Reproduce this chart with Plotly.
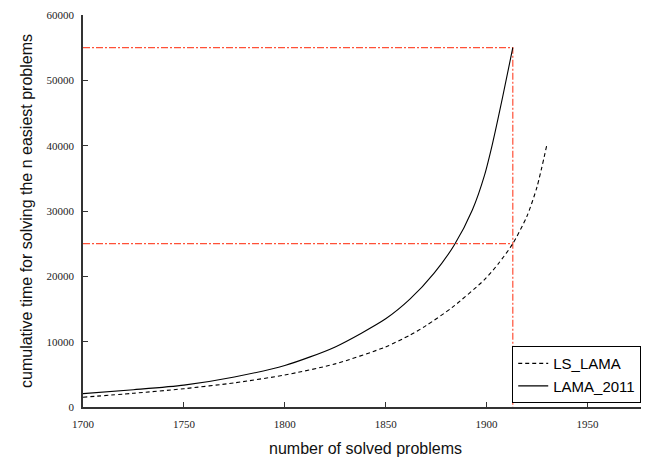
import plotly.graph_objects as go

# Data
lama2011_x = [1700, 1725, 1750, 1775, 1800, 1825, 1850, 1862, 1874, 1884, 1893, 1899, 1903, 1908, 1913]
lama2011_y = [2050, 2650, 3350, 4600, 6350, 9200, 13500, 16500, 20500, 24800, 30200, 35500, 40400, 47500, 55000]

lslama_x = [1700, 1725, 1750, 1775, 1800, 1825, 1850, 1862, 1870, 1883, 1899, 1906, 1913, 1920, 1925, 1930]
lslama_y = [1500, 2100, 2800, 3700, 4900, 6600, 9200, 11000, 12450, 15250, 19500, 22000, 25000, 29200, 33700, 40300]

x_ticks = [1700, 1750, 1800, 1850, 1900, 1950]
y_ticks = [0, 10000, 20000, 30000, 40000, 50000, 60000]

ref_x = 1913          # number of problems marked
ref_high = 55000      # LAMA_2011 time at ref_x
ref_low = 25000       # LS_LAMA time at ref_x
x_start = 1700

red = "rgb(255,80,55)"
dash = "7px,2px,2px,2px"

fig = go.Figure()

# red reference lines
fig.add_trace(go.Scatter(x=[x_start, ref_x, ref_x], y=[ref_high, ref_high, 0], mode="lines",
                         line=dict(color=red, width=1.2, dash=dash), showlegend=False, hoverinfo="skip"))
fig.add_trace(go.Scatter(x=[x_start, ref_x], y=[ref_low, ref_low], mode="lines",
                         line=dict(color=red, width=1.2, dash=dash), showlegend=False, hoverinfo="skip"))

fig.add_trace(go.Scatter(x=lslama_x, y=lslama_y, mode="lines", name="LS_LAMA",
                         line=dict(color="black", width=1.1, dash="4px,3px", shape="spline", smoothing=0.7)))
fig.add_trace(go.Scatter(x=lama2011_x, y=lama2011_y, mode="lines", name="LAMA_2011",
                         line=dict(color="black", width=1.1, shape="spline", smoothing=0.7)))

tickfont = dict(family="Liberation Serif", size=11, color="#222")
titlefont = dict(family="Liberation Sans", size=16, color="#111")

# page body adds an 8px offset, so the figure is 8px smaller and margins shifted
fig.update_layout(
    width=641, height=450,
    margin=dict(l=75, r=1, t=7, b=51),
    paper_bgcolor="white", plot_bgcolor="white",
    showlegend=True,
    legend=dict(x=0.988, xanchor="right", y=0.01, yanchor="bottom",
                bordercolor="black", borderwidth=1, bgcolor="white",
                font=dict(family="Liberation Sans", size=15, color="black"),
                tracegroupgap=0, itemwidth=30),
    xaxis=dict(range=[1700, 1980], tickvals=x_ticks, ticktext=[str(v) for v in x_ticks],
               automargin=False,
               showgrid=False, zeroline=False, showline=True, linecolor="#333", linewidth=2,
               ticks="inside", ticklen=5, tickcolor="#333", tickwidth=1,
               tickfont=tickfont, ticklabelstandoff=6,
               title=dict(text="number of solved problems", font=titlefont, standoff=14)),
    yaxis=dict(range=[0, 60000], tickvals=y_ticks, ticktext=[str(v) for v in y_ticks],
               automargin=False,
               showgrid=False, zeroline=False, showline=True, linecolor="#333", linewidth=1.5,
               ticks="inside", ticklen=5, tickcolor="#333", tickwidth=1,
               tickfont=tickfont, ticklabelstandoff=5,
               title=dict(text="cumulative time for solving the n easiest problems", font=titlefont, standoff=10)),
)

fig.write_html("out.html")
